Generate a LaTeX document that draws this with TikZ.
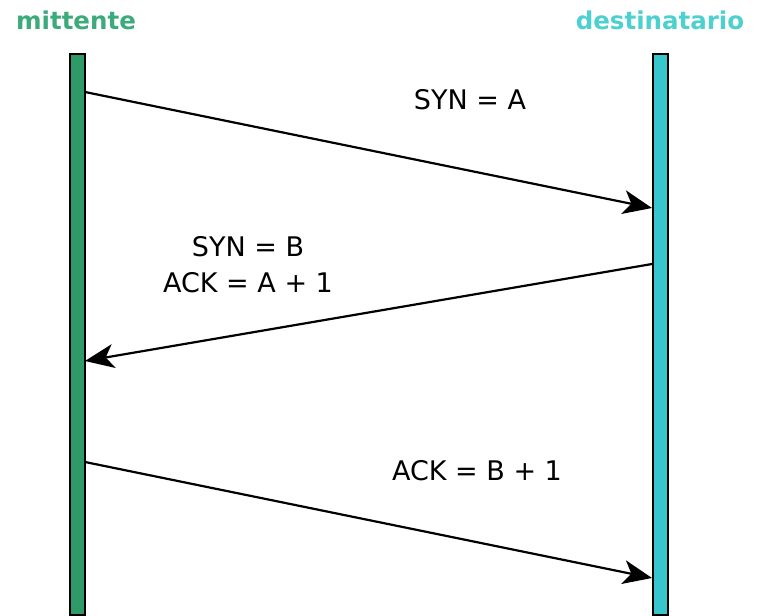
\documentclass[tikz,border=0pt]{standalone}
\usepackage{fontspec}
\setmainfont{DejaVu Sans}
\usetikzlibrary{arrows.meta}
\definecolor{sendbar}{HTML}{2E9A68}
\definecolor{sendtxt}{HTML}{3DAA7C}
\definecolor{recvbar}{HTML}{36C6CC}
\definecolor{recvtxt}{HTML}{4ECFD0}
\tikzset{
  lifeline/.style={draw=black, line width=1.6pt, minimum width=15pt, minimum height=561pt, inner sep=0pt, anchor=north},
  title/.style={font=\fontsize{24.5}{28}\selectfont\bfseries, inner sep=0pt},
  msg/.style={draw=black, line width=2.2pt, -{Stealth[length=29pt,width=24pt,inset=8pt]}},
  lbl/.style={font=\fontsize{27}{36}\selectfont, align=center, inner sep=0pt},
}
\begin{document}
\begin{tikzpicture}[x=1pt,y=-1pt]
\useasboundingbox (0,0) rectangle (761,616);
\node[lifeline, fill=sendbar] (snd) at (77.5,53) {};
\node[lifeline, fill=recvbar] (rcv) at (660.5,53) {};
\node[title, text=sendtxt] (tsnd) at (76,20) {mittente};
\node[title, text=recvtxt] (trcv) at (660,20) {destinatario};
\coordinate (s1) at (85,92);
\coordinate (r1) at (652,208);
\coordinate (r2) at (652,264);
\coordinate (s2) at (85,361);
\coordinate (s3) at (85,462);
\coordinate (r3) at (652,578);
\draw[msg] (s1) -- (r1);
\draw[msg] (r2) -- (s2);
\draw[msg] (s3) -- (r3);
\node[lbl] (l1) at (470,100) {SYN = A};
\node[lbl] (l2) at (248,265) {SYN = B\\ACK = A + 1};
\node[lbl] (l3) at (477,471) {ACK = B + 1};
\end{tikzpicture}
\end{document}
